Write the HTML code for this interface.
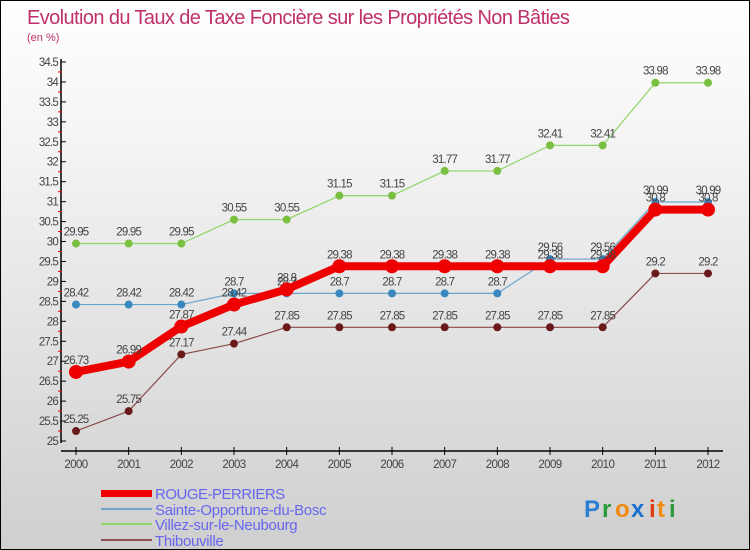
<!DOCTYPE html>
<html><head><meta charset="utf-8"><style>
body{margin:0;}
#wrap{width:748px;height:548px;border:1px solid #000;background:linear-gradient(#fff,#f2f2f2 30%,#cfcfcf);position:relative;font-family:"Liberation Sans",sans-serif;overflow:hidden}
svg text{font-family:"Liberation Sans",sans-serif}
</style></head><body>
<div id="wrap">
<svg id="chart" width="748" height="548">
<text x="26" y="23" font-size="20" fill="#c0306a" style="letter-spacing:-0.6px">Evolution du Taux de Taxe Foncière sur les Propriétés Non Bâties</text>
<text x="26" y="40" font-size="11" fill="#c0306a">(en %)</text>
<g id="axes"></g><g id="series"></g>
<g>
<rect x="100" y="489" width="51" height="7" fill="#e00"/>
<text x="154" y="498" font-size="15" fill="#6666ee" style="letter-spacing:-0.5px">ROUGE-PERRIERS</text>
<rect x="100" y="507" width="51" height="2" fill="#6ca4cc"/>
<text x="154" y="514" font-size="15" fill="#6666ee" style="letter-spacing:-0.3px">Sainte-Opportune-du-Bosc</text>
<rect x="100" y="522" width="51" height="2" fill="#8fd46a"/>
<text x="154" y="529" font-size="15" fill="#6666ee" style="letter-spacing:-0.3px">Villez-sur-le-Neubourg</text>
<rect x="100" y="538" width="51" height="2" fill="#905050"/>
<text x="154" y="545" font-size="15" fill="#6666ee" style="letter-spacing:-0.3px">Thibouville</text>
</g>
<g font-size="24" font-weight="bold">
<text x="583" y="516" fill="#2a7fd0">P</text><text x="601" y="516" fill="#2a9a3a">r</text><text x="614" y="516" fill="#f08a10">o</text><text x="630" y="516" fill="#1a70d0">x</text><text x="648" y="516" fill="#e03a10">i</text><text x="656" y="516" fill="#f08a10">t</text><text x="668" y="516" fill="#2a9a3a">i</text>
</g>
</svg></div>
<script>
const years=[2000,2001,2002,2003,2004,2005,2006,2007,2008,2009,2010,2011,2012];
const rougePerriers=[26.73,26.99,27.87,28.42,28.8,29.38,29.38,29.38,29.38,29.38,29.38,30.8,30.8];
const sainteOpportune=[28.42,28.42,28.42,28.7,28.7,28.7,28.7,28.7,28.7,29.56,29.56,30.99,30.99];
const villez=[29.95,29.95,29.95,30.55,30.55,31.15,31.15,31.77,31.77,32.41,32.41,33.98,33.98];
const thibouville=[25.25,25.75,27.17,27.44,27.85,27.85,27.85,27.85,27.85,27.85,27.85,29.2,29.2];
const yTicks=[25,25.5,26,26.5,27,27.5,28,28.5,29,29.5,30,30.5,31,31.5,32,32.5,33,33.5,34,34.5];
const NS='http://www.w3.org/2000/svg';
const X=i=>75+i*(707-75)/12;
const Y=v=>440-(v-25)*(440-61)/9.5;
function mk(tag,attrs,parent){const e=document.createElementNS(NS,tag);for(const k in attrs)e.setAttribute(k,attrs[k]);parent.appendChild(e);return e;}
const ax=document.getElementById('axes');
const ya=mk('line',{x1:60,y1:58,x2:60,y2:442,stroke:'#000','stroke-width':1.5},ax);


const xa=mk('line',{x1:60,y1:450,x2:722,y2:450,stroke:'#000','stroke-width':1.5},ax);


yTicks.forEach(v=>{
 mk('line',{x1:60,y1:Y(v),x2:65,y2:Y(v),stroke:'#000'},ax);
 if(v<34.5)mk('line',{x1:57,y1:Y(v+0.25),x2:61,y2:Y(v+0.25),stroke:'#e00'},ax);
 const t=mk('text',{x:57,y:Y(v)+4,'text-anchor':'end','font-size':11.5,fill:'#444','letter-spacing':'-0.8'},ax);
 t.textContent=String(v);
 
 
});
years.forEach((yr,i)=>{
 mk('line',{x1:X(i),y1:446,x2:X(i),y2:454,stroke:'#000'},ax);
 const t=mk('text',{x:X(i),y:467,'text-anchor':'middle','font-size':11.5,fill:'#444','letter-spacing':'-0.6'},ax);
 t.textContent=yr;
 
 
});
const sg=document.getElementById('series');
function draw(vals,name,color,dot,lw,r){
 const g=mk('g',{},sg);
 
 
 const pl=mk('polyline',{points:vals.map((v,i)=>X(i)+','+Y(v)).join(' '),fill:'none',stroke:color,'stroke-width':lw,'stroke-linejoin':'round'},g);
 
 
 vals.forEach((v,i)=>{
  const c=mk('circle',{cx:X(i),cy:Y(v),r:r,fill:dot},g);
  
  
  const t=mk('text',{x:X(i),y:Y(v)-8,'text-anchor':'middle','font-size':11.5,fill:'#444','letter-spacing':'-0.8'},g);
  t.textContent=String(v);
  
  
 });
}
draw(thibouville,'thibouville','#8a4a4a','#6a1a1a',1.2,4);
draw(villez,'villez','#8fd46a','#7ac040',1.2,4);
draw(sainteOpportune,'sainte-opportune','#6ca4cc','#3a88c0',1.2,4);
draw(rougePerriers,'rouge-perriers','#e00','#e00',8,7);
</script>
</body></html>
